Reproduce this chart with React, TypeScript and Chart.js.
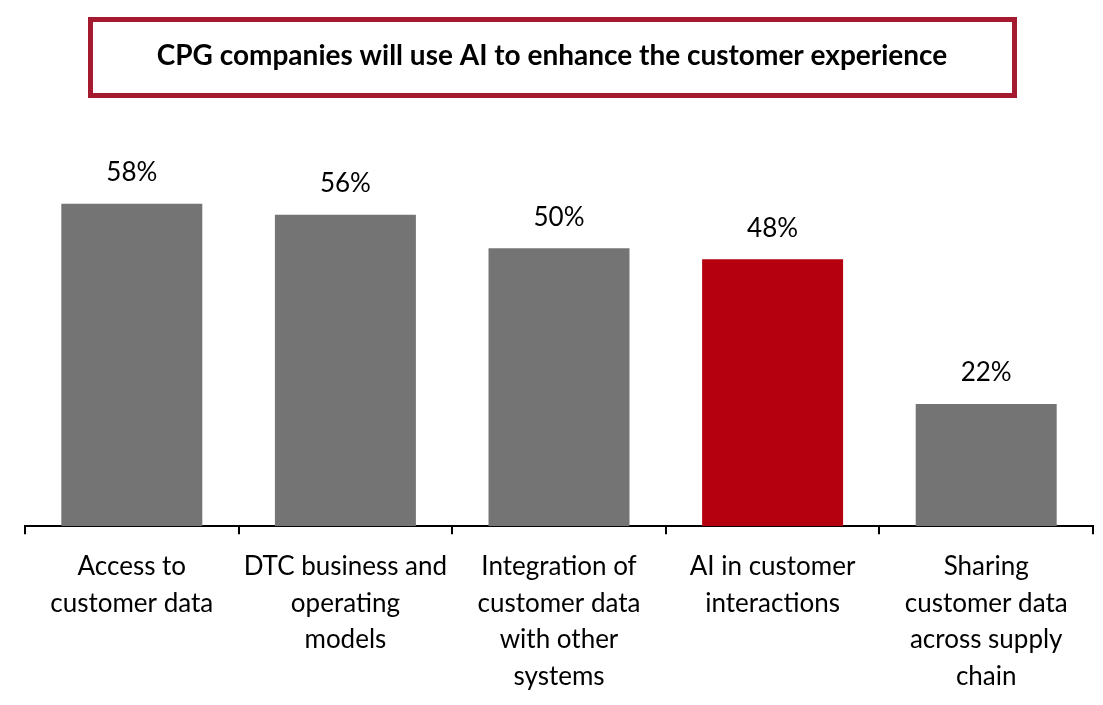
import React, { useEffect, useRef } from "react";
import { Chart, registerables } from "chart.js";

Chart.register(...registerables);

const titleText = "CPG companies will use AI to enhance the customer experience";
const categories: string[][] = [
  ["Access to", "customer data"],
  ["DTC business and", "operating", "models"],
  ["Integration of", "customer data", "with other", "systems"],
  ["AI in customer", "interactions"],
  ["Sharing", "customer data", "across supply", "chain"],
];
const values = [58, 56, 50, 48, 22];
const barColors = ["#747474", "#747474", "#747474", "#B5000F", "#747474"];

const FONT = "Lato, 'Open Sans', sans-serif";

const titlePlugin = {
  id: "titleBox",
  afterDraw(chart: any) {
    const ctx = chart.ctx;
    ctx.save();
    ctx.strokeStyle = "#A51A2E";
    ctx.lineWidth = 5;
    ctx.strokeRect(90.5, 19.5, 924, 76);
    ctx.fillStyle = "#000";
    ctx.font = `bold 28px ${FONT}`;
    ctx.textAlign = "center";
    ctx.textBaseline = "middle";
    ctx.fillText(titleText, 552, 56);
    ctx.restore();
  },
};

const dataLabelPlugin = {
  id: "dataLabels",
  afterDatasetsDraw(chart: any) {
    const ctx = chart.ctx;
    const meta = chart.getDatasetMeta(0);
    ctx.save();
    ctx.fillStyle = "#000";
    ctx.font = `26px ${FONT}`;
    ctx.textAlign = "center";
    ctx.textBaseline = "middle";
    meta.data.forEach((bar: any, i: number) => {
      ctx.fillText(values[i] + "%", bar.x, bar.y - 31);
    });
    ctx.restore();
  },
};

export default function App() {
  const ref = useRef<HTMLCanvasElement>(null);
  useEffect(() => {
    if (!ref.current) return;
    const chart = new Chart(ref.current, {
      type: "bar",
      data: {
        labels: categories,
        datasets: [
          {
            data: values,
            backgroundColor: barColors,
            categoryPercentage: 0.66,
            barPercentage: 1,
          },
        ],
      },
      options: {
        animation: false,
        responsive: false,
        layout: { padding: { left: 25, right: 10, top: 137, bottom: -4 } },
        plugins: { legend: { display: false }, tooltip: { enabled: false } },
        scales: {
          x: {
            grid: {
              drawOnChartArea: false,
              drawTicks: true,
              tickLength: 8,
              color: "#000",
              lineWidth: 2,
              offset: true,
            },
            border: { display: true, color: "#000", width: 2 },
            ticks: {
              color: "#000",
              font: { family: FONT, size: 26, lineHeight: 1.41 },
              padding: 14,
              maxRotation: 0,
              autoSkip: false,
            },
          },
          y: {
            display: false,
            min: 0,
            max: 70,
          },
        },
      },
      plugins: [titlePlugin, dataLabelPlugin],
    });
    return () => chart.destroy();
  }, []);
  return (
    <div style={{ position: "absolute", left: 0, top: 0, width: 1103, height: 705, background: "#fff" }}>
      <canvas ref={ref} width={1103} height={705} />
    </div>
  );
}
